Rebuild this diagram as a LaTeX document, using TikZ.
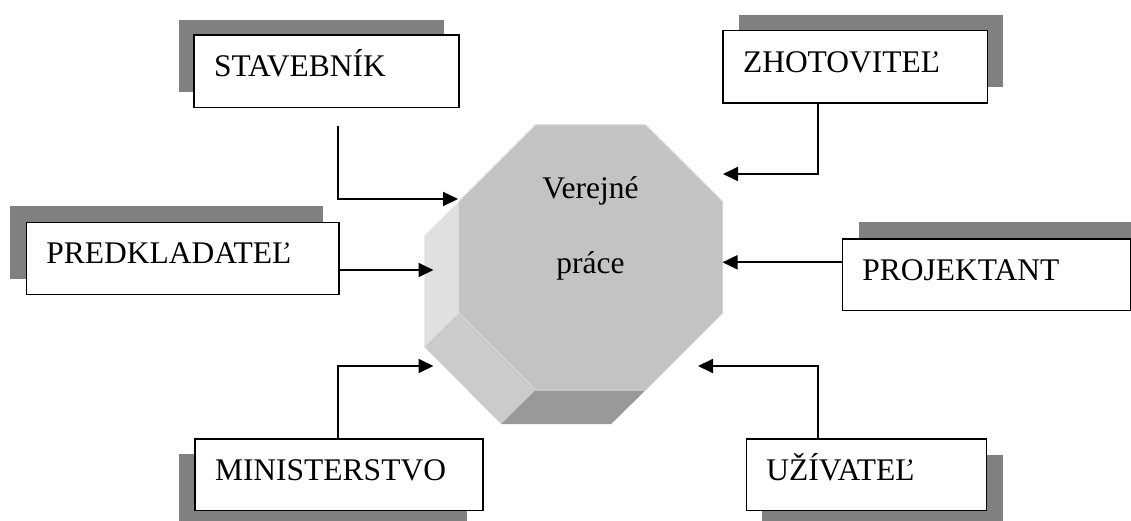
\documentclass[tikz,border=0pt]{standalone}
\usepackage{fontspec}
\setmainfont{Liberation Serif}
\usetikzlibrary{arrows.meta,shadows,calc}
\definecolor{shadowc}{HTML}{808080}
\definecolor{frontc}{HTML}{C3C3C3}
\definecolor{edgec}{HTML}{D6D6D6}
\definecolor{leftc}{HTML}{E0E0E0}
\definecolor{diagc}{HTML}{CBCBCB}
\definecolor{bottomc}{HTML}{999999}
\tikzset{
  actorbox/.style={draw, line width=1.4pt, fill=white, anchor=north west,
    inner xsep=20pt, inner ysep=0pt, text height=22pt, text depth=11.4pt,
    align=left, font=\fontsize{31.5}{36}\selectfont},
  shadowed/.style 2 args={drop shadow={shadow xshift=#1, shadow yshift=#2,
    fill=shadowc, opacity=1, shadow scale=1}},
  conn/.style={line width=1.9pt, -{Triangle[length=15pt,width=14pt]}},
  centertext/.style={anchor=base, inner sep=0pt, font=\fontsize{31.5}{36}\selectfont}
}
\begin{document}
\begin{tikzpicture}[x=1pt,y=-1pt]
\useasboundingbox (0,0) rectangle (1131,521);

% octagon (extruded)
\coordinate (A) at (535.7,125);
\coordinate (B) at (645.7,125);
\coordinate (C) at (722.7,201.7);
\coordinate (D) at (722.7,313);
\coordinate (E) at (645.7,390);
\coordinate (F) at (535.7,390);
\coordinate (G) at (458.8,313);
\coordinate (H) at (458.8,201.7);
\fill[leftc] (H) -- (G) -- ($(G)+(-34.5,34)$) -- ($(H)+(-34.5,34)$) -- cycle;
\fill[diagc] (G) -- (F) -- ($(F)+(-34.5,34)$) -- ($(G)+(-34.5,34)$) -- cycle;
\fill[bottomc] (F) -- (E) -- ($(E)+(-34.5,34)$) -- ($(F)+(-34.5,34)$) -- cycle;
\filldraw[fill=frontc, draw=edgec, line width=1pt] (A) -- (B) -- (C) -- (D) -- (E) -- (F) -- (G) -- (H) -- cycle;
\node[centertext] (vp1) at (590.5,198.3) {Verejné};
\node[centertext] (vp2) at (590.5,273.3) {práce};

% boxes
\node[actorbox, text width=225pt, minimum height=72.4pt, shadowed={-15pt}{15pt}] (stav) at (193.3,34.3) {STAVEBNÍK};
\node[actorbox, text width=224.4pt, minimum height=72.3pt, shadowed={16pt}{16pt}] (zhot) at (722.3,30) {ZHOTOVITEĽ};
\node[actorbox, text width=272.6pt, minimum height=72.3pt, shadowed={-16pt}{16pt}] (pred) at (25.7,221.7) {PREDKLADATEĽ};
\node[actorbox, text width=248.3pt, minimum height=71.7pt, shadowed={16.6pt}{16.6pt}] (proj) at (841.7,238.3) {PROJEKTANT};
\node[actorbox, text width=248pt, minimum height=71.7pt, shadowed={-16pt}{-15pt}] (mini) at (194.3,438.3) {MINISTERSTVO};
\node[actorbox, text width=200.3pt, minimum height=71.7pt, shadowed={16pt}{-16pt}] (uziv) at (745.7,438.3) {UŽÍVATEĽ};

% arrow ends
\coordinate (s1) at (338.3,126);
\coordinate (t1) at (458,199);
\coordinate (t2) at (723,174);
\coordinate (t3) at (433.5,270);
\coordinate (t4) at (722.5,262.3);
\coordinate (t5) at (433.5,366);
\coordinate (t6) at (698,366);

% connectors
\draw[conn] (s1) |- (t1);
\draw[conn] ($(zhot.south west)+(96,0)$) |- (t2);
\draw[conn] (pred.east |- t3) -- (t3);
\draw[conn] (proj.west |- t4) -- (t4);
\draw[conn] ($(mini.north west)+(144,0)$) |- (t5);
\draw[conn] ($(uziv.north west)+(72,0)$) |- (t6);
\end{tikzpicture}
\end{document}
